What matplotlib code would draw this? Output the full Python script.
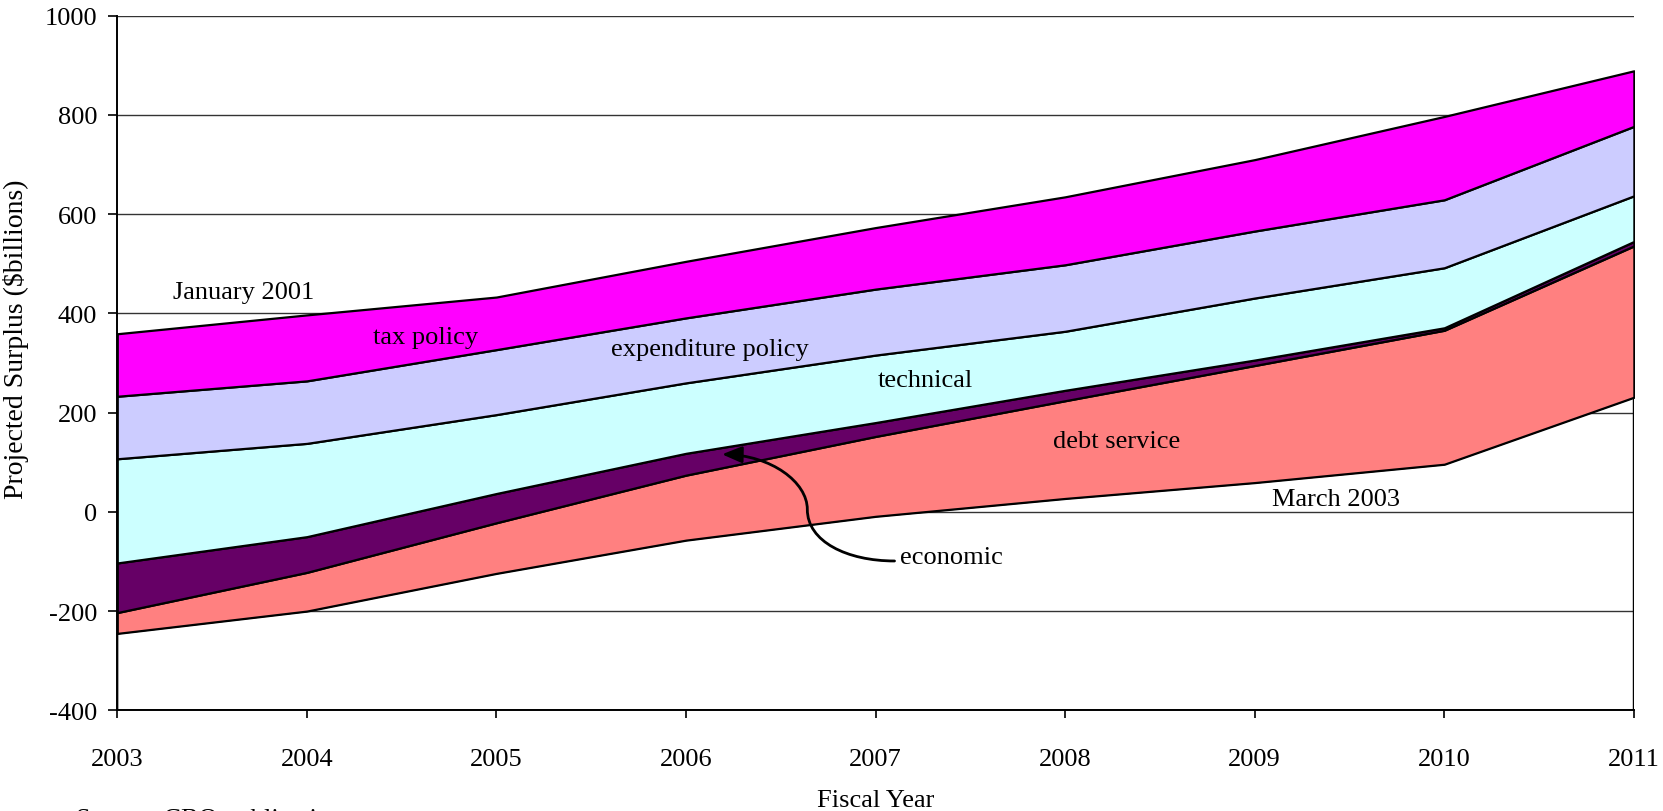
import numpy as np
import matplotlib
matplotlib.use("Agg")
import matplotlib.pyplot as plt
from matplotlib.path import Path
from matplotlib.patches import FancyArrowPatch

plt.rcParams["font.family"] = ["Liberation Serif", "DejaVu Serif"]
plt.rcParams["axes.unicode_minus"] = False

years = [2003, 2004, 2005, 2006, 2007, 2008, 2009, 2010, 2011]

# March 2003 baseline projection, $billions
march_2003 = [-245, -200, -124, -57, -9, 27, 59, 96, 231]

# changes stacked on top of the March 2003 projection
debt_service = [42, 78, 102, 131, 161, 197, 236, 270, 305]
economic = [100, 72, 59, 44, 28, 21, 11, 5, 9]
technical = [210, 188, 159, 142, 136, 119, 125, 121, 92]
expenditure_policy = [126, 126, 131, 131, 133, 134, 135, 137, 140]
tax_policy = [126, 133, 106, 114, 124, 137, 144, 168, 112]

layers = [debt_service, economic, technical, expenditure_policy, tax_policy]
colors = ["#FF8080", "#660066", "#CCFFFF", "#CCCCFF", "#FF00FF"]

fig = plt.figure(figsize=(16.63, 8.12), dpi=100)
ax = fig.add_axes([0.0705, 0.124, 0.912, 0.8554])

x = np.array(years)
base = np.array(march_2003, dtype=float)

# outline of the region under the March 2003 line (no fill, grid shows through)
ax.fill_between(x, -400, base, facecolor="none", edgecolor="black", lw=1.6, zorder=2)

lower = base.copy()
for vals, col in zip(layers, colors):
    upper = lower + np.array(vals)
    ax.fill_between(x, lower, upper, facecolor=col, edgecolor="black", lw=1.6, zorder=3)
    lower = upper

ax.set_xlim(2003, 2011)
ax.set_ylim(-400, 1000)
ax.set_xticks(years)
ax.set_yticks(range(-400, 1001, 200))
ax.yaxis.grid(True, color="#333333", lw=1.0)
ax.set_axisbelow(True)

for s in ["top", "right"]:
    ax.spines[s].set_visible(False)
for s in ["left", "bottom"]:
    ax.spines[s].set_linewidth(1.4)

ax.tick_params(axis="x", direction="out", length=6, width=1.2, pad=21, labelsize=19)
ax.tick_params(axis="y", direction="out", length=6.5, width=1.2, pad=8, labelsize=19)

ax.set_xlabel("Fiscal Year", fontsize=19, labelpad=14)
ax.set_ylabel("Projected Surplus ($billions)", fontsize=20)
ax.yaxis.set_label_coords(-0.058, 0.536)

# layer labels
ax.text(2003.668, 431, "January 2001", fontsize=19, ha="center", va="baseline", zorder=5)
ax.text(2004.627, 340, "tax policy", fontsize=19, ha="center", va="baseline", zorder=5)
ax.text(2006.124, 317, "expenditure policy", fontsize=19, ha="center", va="baseline", zorder=5)
ax.text(2007.263, 254, "technical", fontsize=19, ha="center", va="baseline", zorder=5)
ax.text(2008.27, 130, "debt service", fontsize=19, ha="center", va="baseline", zorder=5)
ax.text(2009.43, 13, "March 2003", fontsize=19, ha="center", va="baseline", zorder=5)
ax.text(2007.128, -103, "economic", fontsize=19, ha="left", va="baseline", zorder=5)

# curved pointer from "economic" to the thin dark band
verts = [(2007.10, -99), (2006.85, -99), (2006.64, -60), (2006.64, 5),
         (2006.64, 60), (2006.45, 114), (2006.19, 116)]
codes = [Path.MOVETO] + [Path.CURVE4] * 6
arrow = FancyArrowPatch(path=Path(verts, codes),
                        arrowstyle="-|>,head_length=0.6,head_width=0.25",
                        mutation_scale=20, color="black", lw=2, zorder=6)
ax.add_patch(arrow)

fig.text(0.0458, 0.0037, "Source: CBO publications", fontsize=19, ha="left", va="top")

fig.savefig("out.png", dpi=100)
